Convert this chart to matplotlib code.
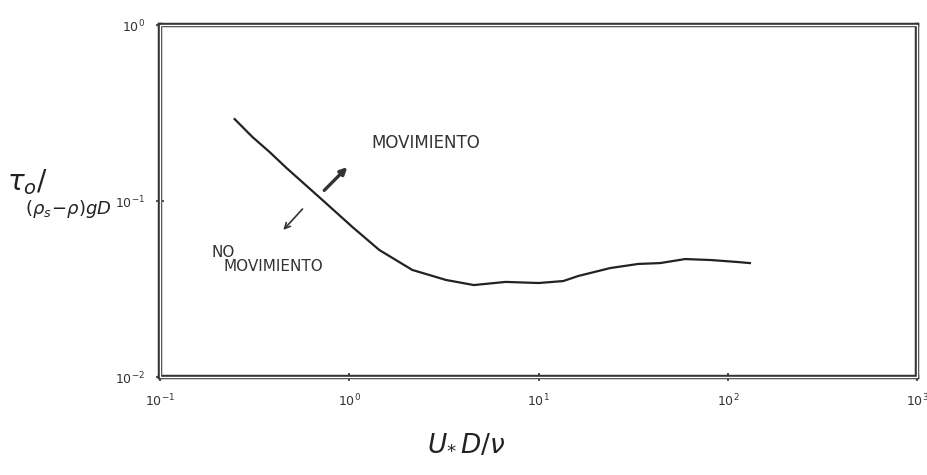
import numpy as np
import matplotlib
matplotlib.use("Agg")
import matplotlib.pyplot as plt
from matplotlib.patches import Rectangle

# curva de Shields
re_star = [0.248, 0.308, 0.379, 0.466, 0.695, 1.04, 1.44, 2.15, 3.24, 4.55, 6.70,
           10.0, 13.5, 16.2, 23.9, 33.6, 43.9, 59.4, 81.4, 113, 130.6]
tau_star = [0.292, 0.231, 0.190, 0.154, 0.105, 0.0711, 0.0527, 0.0406, 0.0356, 0.0333, 0.0347,
            0.0342, 0.0351, 0.0375, 0.0416, 0.0439, 0.0444, 0.0468, 0.0462, 0.045, 0.0444]

x_ticks = [0.1, 1, 10, 100, 1000]
x_labels = [r"$10^{-1}$", r"$10^{0}$", r"$10^{1}$", r"$10^{2}$", r"$10^{3}$"]
y_ticks = [0.01, 0.1, 1]
y_labels = [r"$10^{-2}$", r"$10^{-1}$", r"$10^{0}$"]

fig = plt.figure(figsize=(9.28, 4.75), dpi=100)
ax = fig.add_axes([0.1724, 0.2063, 0.816, 0.741])
ax.set_xscale("log")
ax.set_yscale("log")
ax.set_xlim(0.1, 1000)
ax.set_ylim(0.01, 1)

ax.plot(re_star, tau_star, color="#222222", lw=1.6)

# flechas
ax.annotate("", xy=(1.0, 0.160), xytext=(0.72, 0.112),
            arrowprops=dict(arrowstyle="-|>", color="#333333", lw=2.4, mutation_scale=10))
ax.annotate("", xy=(0.438, 0.0667), xytext=(0.579, 0.0925),
            arrowprops=dict(arrowstyle="->", color="#333333", lw=1.2, mutation_scale=10))

ax.text(1.31, 0.214, "MOVIMIENTO", fontsize=12, color="#333333", va="center")
ax.text(0.188, 0.0507, "NO", fontsize=11, color="#333333", va="center")
ax.text(0.217, 0.0422, "MOVIMIENTO", fontsize=11, color="#333333", va="center")

# marco doble
for s in ax.spines.values():
    s.set_linewidth(3.2)
    s.set_color("#333333")
ax.add_patch(Rectangle((0, 0), 1, 1, transform=ax.transAxes, fill=False,
                       edgecolor="white", lw=1.0, clip_on=False, zorder=5))

ax.minorticks_off()
ax.set_xticks(x_ticks)
ax.set_xticklabels(x_labels)
ax.set_yticks(y_ticks)
ax.set_yticklabels(y_labels)
ax.tick_params(direction="inout", length=6, width=1.2, labelsize=9, pad=8, colors="#333333")

fig.text(0.008, 0.60, r"$\tau_o$/", fontsize=20, color="#222222")
fig.text(0.027, 0.55, r"$(\rho_s\!-\!\rho)gD$", fontsize=13, color="#222222")
fig.text(0.46, 0.05, r"$U_{*}\,D/\nu$", fontsize=19, color="#222222")

fig.savefig("out.png", dpi=100, facecolor="white")
